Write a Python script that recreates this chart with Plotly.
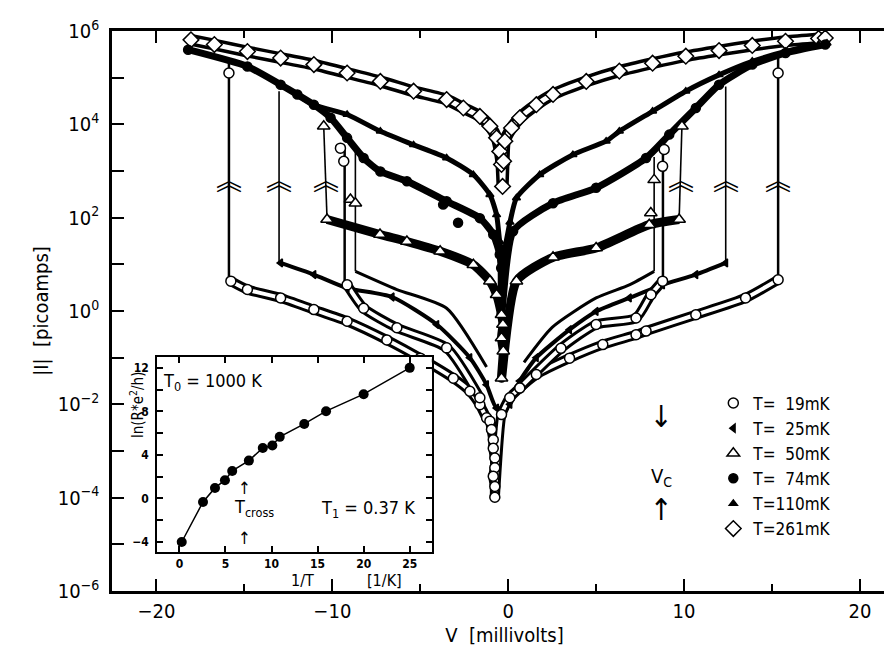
import plotly.graph_objects as go

FONT = "DejaVu Sans Condensed, Liberation Sans Narrow, DejaVu Sans, sans-serif"

# ---------------- data ----------------
# V in millivolts, logI = log10(|I| / pA)

# T = 261 mK (open diamonds)
V_261 = [-18.04, -16.71, -14.83, -12.94, -11.05, -9.16, -7.27, -5.38, -3.50, -2.55,
         -1.61, -1.04, -0.66, -0.48, -0.38, -0.32, -0.26, -0.19, 0.19, 0.66,
         1.60, 2.55, 4.44, 6.32, 8.21, 10.10, 11.99, 13.88, 15.77, 17.65, 18.03]
logI_261 = [5.81, 5.71, 5.56, 5.42, 5.28, 5.10, 4.92, 4.71, 4.53, 4.35,
            4.17, 3.96, 3.71, 3.42, 3.14, 2.67, 3.21, 3.64, 3.92, 4.14,
            4.42, 4.64, 4.92, 5.14, 5.31, 5.46, 5.58, 5.69, 5.78, 5.84, 5.85]

# T = 110 mK (small filled triangles)
V_110 = [-18.20, -14.83, -12.94, -11.05, -9.16, -7.27, -5.38, -3.50, -1.98, -1.04,
         -0.66, -0.48, -0.30, 0.10, 0.47, 1.79, 3.68, 5.57, 6.32, 8.21,
         10.10, 11.99, 13.88, 15.77, 17.65, 18.13]
logI_110 = [5.60, 5.24, 4.85, 4.42, 4.21, 3.85, 3.56, 3.28, 2.92, 2.49,
            2.06, 1.49, 1.20, 1.90, 2.42, 2.92, 3.35, 3.64, 3.85, 4.28,
            4.71, 5.06, 5.35, 5.56, 5.71, 5.74]

# T = 74 mK (filled circles)
V_74 = [-18.20, -14.83, -12.94, -11.99, -11.05, -10.10, -9.16, -8.22, -7.27, -5.76,
        -3.50, -1.61, -0.85, -0.48, -0.40, -0.38, 0.28, 2.55, 5.00, 7.84,
        9.16, 10.67, 11.99, 13.88, 15.77, 18.03]
logI_74 = [5.60, 5.24, 4.85, 4.64, 4.42, 4.14, 3.71, 3.28, 2.99, 2.78,
           2.35, 1.99, 1.64, 1.21, 0.92, -0.08, 1.71, 2.31, 2.64, 3.28,
           3.78, 4.35, 4.85, 5.28, 5.53, 5.71]
V_74_dots = [-3.70, -2.85]
logI_74_dots = [2.28, 1.89]

# T = 50 mK (open triangles)
V_50_low = [-10.30, -7.29, -5.76, -3.87, -1.98, -1.04, -0.66, -0.38, -0.30, -0.38,
            -0.28, -0.38, 0.47, 2.55, 5.00, 8.02, 9.72]
logI_50_low = [1.96, 1.64, 1.49, 1.28, 0.99, 0.64, 0.35, -0.08, -0.29, -0.58,
               -0.86, -1.44, 0.64, 1.15, 1.35, 1.85, 1.96]
V_50_retL = [-8.69, -6.33, -3.50, -1.23]
logI_50_retL = [0.85, 0.46, 0.06, -1.20]
V_50_retR = [8.30, 6.89, 5.00, 2.50, 0.90]
logI_50_retR = [0.85, 0.56, 0.28, -0.35, -1.10]
V_50_jumps = [-10.49, -8.97, -8.69, 9.88, 8.30, 8.11]
logI_50_jumps = [3.96, 2.39, 2.31, 3.96, 2.81, 2.10]
# switching lines: bottom V, top V, bottom logI, top logI
J50_Vb = [-10.30, 9.72, -8.69, 8.30]
J50_Vt = [-10.49, 9.88, -8.69, 8.30]
J50_Lb = [1.96, 1.96, 0.85, 0.85]
J50_Lt = [3.96, 3.96, 3.45, 3.30]

# T = 25 mK (small filled left triangles)
V_25 = [-12.94, -11.05, -9.16, -6.60, -4.06, -2.18, -1.23, -0.66, 0.10, 0.66,
        1.60, 3.49, 5.00, 6.89, 8.78, 10.67, 12.37]
logI_25 = [1.03, 0.78, 0.49, 0.30, -0.29, -1.00, -1.58, -2.08, -2.00, -1.50,
           -1.00, -0.40, -0.01, 0.28, 0.56, 0.78, 1.03]
J25_V = [-13.03, 12.37]
J25_Lb = [1.03, 1.03]
J25_Lt = [4.71, 4.81]

# T = 19 mK (open circles)
V_19_low = [-15.77, -14.83, -12.94, -11.05, -9.16, -6.90, -5.00, -3.12, -2.18, -1.61,
            -1.23, -1.04, -0.95, -0.85, -0.85, -0.76, -0.76, -0.85, -0.76, -0.76,
            -0.38, 0.09, 0.66, 1.60, 3.49, 5.38, 7.27, 7.84, 10.67, 13.50, 15.35]
logI_19_low = [0.64, 0.46, 0.28, 0.03, -0.22, -0.62, -1.01, -1.44, -1.72, -2.01,
               -2.29, -2.36, -2.54, -2.76, -2.94, -3.15, -3.36, -3.54, -3.76, -3.99,
               -2.22, -1.86, -1.65, -1.36, -1.01, -0.72, -0.51, -0.43, -0.08, 0.28, 0.67]
V_19_retL = [-9.16, -8.22, -6.33, -3.50, -1.61]
logI_19_retL = [0.56, 0.06, -0.36, -0.79, -1.86]
V_19_retR = [8.78, 8.12, 7.27, 5.00, 3.00, 0.66]
logI_19_retR = [0.64, 0.35, -0.15, -0.29, -0.80, -1.65]
V_19_jumps = [-15.88, 15.35, -9.54, -9.35, 8.87, 8.78]
logI_19_jumps = [5.10, 5.10, 3.49, 3.21, 3.46, 3.10]
J19_V = [-15.88, 15.35, -9.30, 8.80]
J19_Lb = [0.64, 0.67, 0.56, 0.64]
J19_Lt = [5.40, 5.45, 3.50, 3.60]

# arrow heads drawn on the upward switching lines
CHEV_V = [-15.88, -13.03, -10.36, 9.80, 12.37, 15.35]
CHEV_L = [2.85, 2.85, 2.85, 2.85, 2.85, 2.85]

# inset: ln(R e^2/h) versus 1/T
inv_T = [0.25, 2.56, 3.86, 4.94, 5.73, 7.54, 9.05, 10.09, 10.89, 13.55, 15.92, 20.0, 25.0]
ln_R = [-4.0, -0.32, 0.97, 1.68, 2.53, 3.48, 4.64, 4.86, 5.66, 6.85, 8.02, 9.58, 12.0]

Y_DECADES = list(range(-6, 7))
X_MAJOR = [-20, -10, 0, 10, 20]
X_MINOR = [-15, -5, 5, 15]

# ---------------- figure ----------------
def P(v):
    return [10 ** x for x in v]

fig = go.Figure()


def band(V, L, width, inner=None, smoothing=0.6):
    fig.add_trace(go.Scatter(x=V, y=P(L), mode="lines",
                             line=dict(color="black", width=width, shape="spline", smoothing=smoothing),
                             showlegend=False, hoverinfo="skip"))
    if inner:
        fig.add_trace(go.Scatter(x=V, y=P(L), mode="lines",
                                 line=dict(color="white", width=inner, shape="spline", smoothing=smoothing),
                                 showlegend=False, hoverinfo="skip"))


def jumps(Vb, Vt, Lb, Lt, width):
    xs, ys = [], []
    for a, b, c, d in zip(Vb, Vt, Lb, Lt):
        xs += [a, b, None]
        ys += [10 ** c, 10 ** d, None]
    fig.add_trace(go.Scatter(x=xs, y=ys, mode="lines", line=dict(color="black", width=width),
                             showlegend=False, hoverinfo="skip"))


# bands
band(V_261, logI_261, 12, 5)
band(V_110, logI_110, 5)
band(V_74, logI_74, 7)
band(V_50_low, logI_50_low, 9)
band(V_50_retL, logI_50_retL, 3)
band(V_50_retR, logI_50_retR, 3)
band(V_25, logI_25, 4)
band(V_19_low, logI_19_low, 10, 4)
band(V_19_retL, logI_19_retL, 10, 4)
band(V_19_retR, logI_19_retR, 10, 4)

# switching lines
jumps(J19_V, J19_V, J19_Lb, J19_Lt, 2.5)
jumps(J25_V, J25_V, J25_Lb, J25_Lt, 1.6)
jumps(J50_Vb, J50_Vt, J50_Lb, J50_Lt, 1.6)


# markers (also used for the legend)
def marks(name, V, L, symbol, size, fill, rank):
    fig.add_trace(go.Scatter(x=V, y=P(L), mode="markers", name=name, legendrank=rank,
                             marker=dict(symbol=symbol, size=size, color=fill,
                                         line=dict(color="black", width=1.5)),
                             hoverinfo="skip"))


marks("T=261mK", V_261, logI_261, "diamond", 12, "white", 6)
marks("T=110mK", V_110, logI_110, "triangle-up", 7, "black", 5)
marks("T=\u200774mK", V_74 + V_74_dots, logI_74 + logI_74_dots, "circle", 9, "black", 4)
marks("T=\u200750mK", V_50_low + V_50_jumps, logI_50_low + logI_50_jumps, "triangle-up", 11, "white", 3)
marks("T=\u200725mK", V_25, logI_25, "triangle-left", 7, "black", 2)
marks("T=\u200719mK", V_19_low + V_19_jumps + V_19_retL + V_19_retR,
      logI_19_low + logI_19_jumps + logI_19_retL + logI_19_retR, "circle", 10, "white", 1)

# inset
fig.add_trace(go.Scatter(x=inv_T, y=ln_R, mode="lines+markers", xaxis="x2", yaxis="y2",
                         line=dict(color="black", width=1.5),
                         marker=dict(symbol="circle", size=10, color="black"),
                         showlegend=False, hoverinfo="skip"))

ann = []
for v, l in zip(CHEV_V, CHEV_L):
    ann.append(dict(x=v, y=l, xref="x", yref="y", text="\ufe3d", showarrow=False,
                    font=dict(family="Noto Sans CJK JP", size=26, color="black")))

ann += [
    dict(x=8.69, y=-2.25, xref="x", yref="y", text="\u2193", showarrow=False,
         font=dict(family=FONT, size=30, color="black")),
    dict(x=8.69, y=-3.55, xref="x", yref="y", text="V<sub>C</sub>", showarrow=False,
         font=dict(family=FONT, size=20, color="black")),
    dict(x=8.69, y=-4.25, xref="x", yref="y", text="\u2191", showarrow=False,
         font=dict(family=FONT, size=30, color="black")),
    # inset texts
    dict(x=-2.05, y=10.7, xref="x2", yref="y2", xanchor="left", text="T<sub>0</sub> = 1000 K",
         showarrow=False, font=dict(family=FONT, size=18, color="black")),
    dict(x=5.7, y=-0.9, xref="x2", yref="y2", xanchor="left", text="T<sub>cross</sub>",
         showarrow=False, font=dict(family=FONT, size=18, color="black")),
    dict(x=7.1, y=0.95, xref="x2", yref="y2", text="\u2191", showarrow=False,
         font=dict(family=FONT, size=17, color="black")),
    dict(x=7.1, y=-3.6, xref="x2", yref="y2", text="\u2191", showarrow=False,
         font=dict(family=FONT, size=17, color="black")),
    dict(x=15.2, y=-1.0, xref="x2", yref="y2", xanchor="left", text="T<sub>1</sub> = 0.37 K",
         showarrow=False, font=dict(family=FONT, size=18, color="black")),
    dict(x=0.226, y=-0.002, xref="paper", yref="paper", text="1/T", showarrow=False,
         font=dict(family=FONT, size=16, color="black")),
    dict(x=0.322, y=-0.002, xref="paper", yref="paper", text="[1/K]", showarrow=False,
         font=dict(family=FONT, size=16, color="black")),
    dict(x=0.0165, y=0.2696, xref="paper", yref="paper", text="ln(R*e<sup>2</sup>/h)",
         textangle=-90, showarrow=False, font=dict(family=FONT, size=15, color="black")),
]

fig.update_layout(
    width=892, height=658, autosize=False,
    margin=dict(l=104, r=0, t=23, b=75),
    paper_bgcolor="white", plot_bgcolor="white",
    font=dict(family=FONT, color="black"),
    annotations=ann,
    legend=dict(x=0.766, y=0.367, xanchor="left", yanchor="top",
                font=dict(family=FONT, size=17, color="black"),
                bgcolor="rgba(0,0,0,0)", tracegroupgap=0, itemwidth=30),
    xaxis=dict(domain=[0, 1], range=[-22.53, 22.11], tickvals=X_MAJOR,
               ticktext=["\u221220", "\u221210", "0", "10", "20"],
               ticks="inside", ticklen=12, tickwidth=1.5, tickcolor="black",
               minor=dict(tickvals=X_MINOR, ticks="inside", ticklen=7, tickwidth=1.5, tickcolor="black"),
               showline=True, linewidth=2.5, linecolor="black", mirror="ticks",
               showgrid=False, zeroline=False, tickfont=dict(size=20),
               title=dict(text="V  [millivolts]", font=dict(size=20), standoff=6)),
    yaxis=dict(type="log", range=[-6, 6], tickvals=[10 ** k for k in Y_DECADES],
               ticktext=[("10<sup>%s</sup>" % (str(k).replace("-", "\u2212"))) if k % 2 == 0 else ""
                         for k in Y_DECADES],
               ticks="inside", ticklen=12, tickwidth=1.5, tickcolor="black",
               showline=True, linewidth=2.5, linecolor="black", mirror="ticks",
               showgrid=False, zeroline=False, tickfont=dict(size=20), ticklabelstandoff=6,
               title=dict(text="|I|  [picoamps]", font=dict(size=20), standoff=4)),
    xaxis2=dict(domain=[0.0575, 0.4074], anchor="y2", range=[-2.42, 27.4],
                tickvals=[0, 5, 10, 15, 20, 25], ticks="inside", ticklen=6, tickwidth=1.5,
                tickcolor="black", showline=True, linewidth=2, linecolor="black", mirror="ticks",
                showgrid=False, zeroline=False, ticklabelstandoff=0,
                tickfont=dict(size=12, family=FONT, weight="bold")),
    yaxis2=dict(domain=[0.0696, 0.4179], anchor="x2", range=[-4.92, 13.0],
                tickvals=[-4, 0, 4, 8, 12], ticks="inside", ticklen=6, tickwidth=1.5,
                tickcolor="black", ticklabelstandoff=4,
                minor=dict(tickvals=[-2, 2, 6, 10], ticks="inside", ticklen=6, tickwidth=1.5, tickcolor="black"),
                showline=True, linewidth=2, linecolor="black", mirror="ticks",
                showgrid=False, zeroline=False,
                tickfont=dict(size=12, family=FONT, weight="bold")),
)

fig.write_html("out.html")
